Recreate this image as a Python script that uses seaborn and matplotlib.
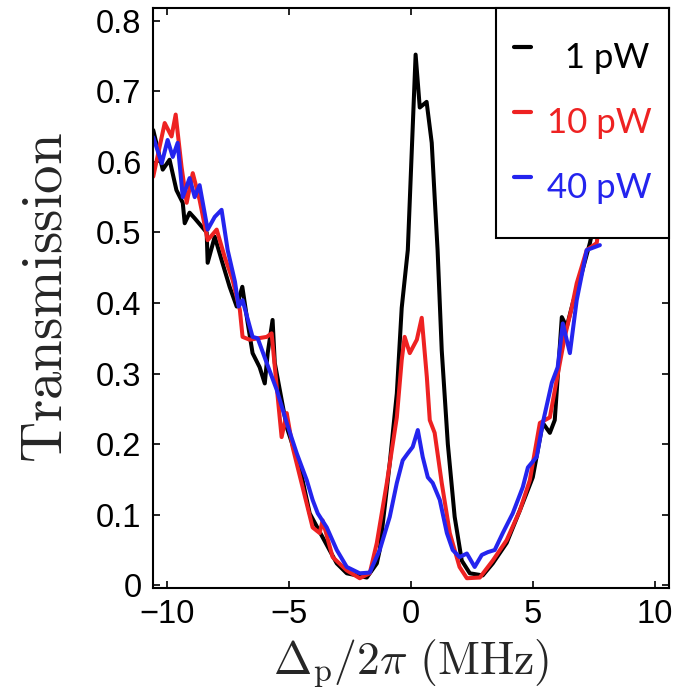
import matplotlib
matplotlib.use("Agg")
import matplotlib.pyplot as plt
import seaborn as sns
import pandas as pd
from matplotlib.lines import Line2D

# ---- data ----
black_x = [-10.55, -10.16, -9.88, -9.6, -9.34, -9.26, -9.06, -8.85, -8.36, -8.32, -8.03, -7.75,
           -7.42, -7.13, -6.9, -6.68, -6.48, -6.19, -5.98, -5.86, -5.66, -5.57, -5.08, -4.55,
           -4.14, -3.61, -3.03, -2.62, -1.8, -1.39, -1.27, -0.86, -0.57, -0.37, -0.12,
           0.2, 0.37, 0.65, 0.86, 0.98, 1.1, 1.27, 1.52, 1.8, 2.09, 2.42, 2.95, 3.36, 3.93,
           4.47, 5.0, 5.41, 5.7, 5.9, 6.19, 6.39, 6.64, 6.93, 7.34, 7.8]
black_y = [0.645, 0.589, 0.603, 0.56, 0.542, 0.513, 0.528, 0.52, 0.5, 0.457, 0.494, 0.461,
           0.423, 0.395, 0.423, 0.372, 0.329, 0.309, 0.286, 0.329, 0.376, 0.315, 0.224, 0.168,
           0.102, 0.068, 0.031, 0.017, 0.011, 0.031, 0.05, 0.173, 0.272, 0.393, 0.475,
           0.752, 0.677, 0.685, 0.627, 0.55, 0.475, 0.333, 0.2, 0.097, 0.035, 0.017, 0.014, 0.031, 0.06,
           0.106, 0.153, 0.23, 0.216, 0.234, 0.38, 0.366, 0.4, 0.433, 0.485, 0.56]

red_x = [-10.55, -10.08, -9.8, -9.63, -9.39, -9.18, -8.93, -8.65, -8.32, -7.95, -7.62, -7.3,
         -7.0, -6.89, -6.6, -5.9, -5.7, -5.49, -5.29, -5.08, -4.84, -4.43, -4.02, -3.73, -3.61,
         -3.2, -2.62, -2.09, -1.68, -1.39, -0.98, -0.57, -0.37, -0.25, -0.04, 0.25, 0.45, 0.66,
         0.78, 0.98, 1.27, 1.6, 2.0, 2.3, 2.83, 3.36, 3.93, 4.47, 4.88, 5.29, 5.7, 5.98, 6.31,
         6.6, 6.8, 7.21, 7.62, 7.9]
red_y = [0.579, 0.655, 0.636, 0.667, 0.593, 0.542, 0.584, 0.546, 0.489, 0.504, 0.465, 0.433,
         0.39, 0.352, 0.348, 0.352, 0.357, 0.281, 0.21, 0.244, 0.196, 0.139, 0.082, 0.074, 0.092,
         0.04, 0.021, 0.01, 0.017, 0.06, 0.145, 0.238, 0.319, 0.352, 0.329, 0.348, 0.379, 0.295,
         0.234, 0.216, 0.145, 0.074, 0.026, 0.01, 0.011, 0.035, 0.064, 0.106, 0.149, 0.23, 0.238, 0.291, 0.352,
         0.394, 0.428, 0.475, 0.485, 0.56]

blue_x = [-10.55, -10.2, -9.96, -9.75, -9.55, -9.34, -9.06, -8.85, -8.65, -8.32, -8.03, -7.75,
          -7.5, -7.2, -7.05, -6.89, -6.48, -6.27, -5.9, -5.49, -5.08, -4.67, -4.26, -4.02, -3.81,
          -3.44, -3.03, -2.62, -2.09, -1.68, -1.27, -0.86, -0.57, -0.33, -0.12, 0.08, 0.29, 0.49,
          0.7, 0.9, 1.19, 1.48, 1.72, 2.0, 2.3, 2.62, 2.91, 3.16, 3.44, 3.77, 4.18, 4.59, 4.8,
          5.16, 5.41, 5.78, 6.02, 6.23, 6.52, 6.8, 7.21, 7.75]
blue_y = [0.635, 0.598, 0.631, 0.607, 0.627, 0.55, 0.577, 0.55, 0.567, 0.504, 0.522, 0.532,
          0.475, 0.43, 0.395, 0.404, 0.352, 0.35, 0.315, 0.277, 0.23, 0.187, 0.149, 0.121, 0.102,
          0.082, 0.05, 0.026, 0.017, 0.018, 0.05, 0.097, 0.145, 0.177, 0.187, 0.196, 0.22, 0.182,
          0.153, 0.145, 0.121, 0.074, 0.05, 0.04, 0.045, 0.026, 0.043, 0.047, 0.05, 0.074, 0.102, 0.139, 0.167,
          0.182, 0.23, 0.287, 0.309, 0.371, 0.329, 0.404, 0.475, 0.482]

labels = ["  1 pW", "10 pW", "40 pW"]
colors = ["#000000", "#ee2222", "#2424ee"]
x_ticks = [-10, -5, 0, 5, 10]
y_ticks = [0, 0.1, 0.2, 0.3, 0.4, 0.5, 0.6, 0.7, 0.8]

frames = []
for lab, xs, ys in zip(labels, [black_x, red_x, blue_x], [black_y, red_y, blue_y]):
    frames.append(pd.DataFrame({"x": xs, "y": ys, "power": lab}))
df = pd.concat(frames, ignore_index=True)

sns.set_theme(style="ticks")
plt.rcParams["font.family"] = ["Liberation Sans", "DejaVu Sans"]
plt.rcParams["mathtext.fontset"] = "cm"

fig = plt.figure(figsize=(6.88, 6.96), dpi=100)
ax = fig.add_axes([0.222, 0.155, 0.750, 0.8335])

sns.lineplot(data=df, x="x", y="y", hue="power", palette=dict(zip(labels, colors)),
             sort=False, estimator=None, linewidth=2.9, ax=ax, legend=False)

ax.set_xlim(-10.57, 10.57)
ax.set_ylim(-0.004, 0.818)
ax.set_xticks(x_ticks)
ax.set_yticks(y_ticks)
ax.set_xticklabels([("\u2212" if t < 0 else "") + str(abs(t)) for t in x_ticks])
ax.set_yticklabels(["0"] + [f"{t:.1f}" for t in y_ticks[1:]])
ax.tick_params(direction="in", length=5, width=1.2, top=True, right=True,
               labelsize=23.5, pad=8, colors="black")
for s in ax.spines.values():
    s.set_linewidth(1.5)
    s.set_color("black")

ax.set_xlabel(r"$\Delta_\mathrm{p}/2\pi\ (\mathrm{MHz})$", fontsize=33, labelpad=5)
ax.set_ylabel(r"$\mathrm{Transmission}$", fontsize=41, labelpad=16)

handles = [Line2D([], [], color=c, linewidth=3) for c in colors]
leg = ax.legend(handles, labels, loc="upper right", bbox_to_anchor=(1.0, 1.0),
                borderaxespad=0, frameon=True, fancybox=False, framealpha=1,
                edgecolor="black", handlelength=0.5, handletextpad=0.45,
                borderpad=0.5, labelspacing=0.0, handleheight=2.5,
                prop={"family": "Lato", "size": 25})
leg.get_frame().set_linewidth(1.5)
for t, c in zip(leg.get_texts(), colors):
    t.set_color(c)

fig.savefig("out.png", dpi=100)
